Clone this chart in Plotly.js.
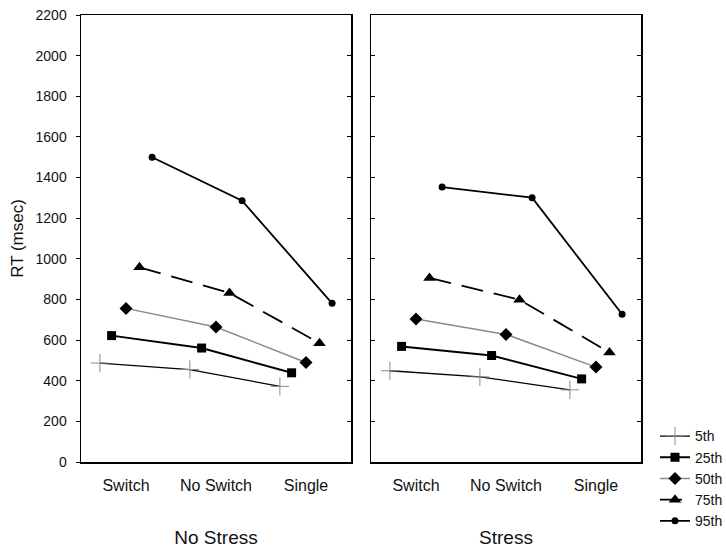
<!DOCTYPE html>
<html>
<head>
<meta charset="utf-8">
<script src="https://cdn.plot.ly/plotly-3.0.1.min.js"></script>
<style>html,body{margin:0;padding:0;background:#fff;}#chart{width:726px;height:551px;}</style>
</head>
<body>
<div id="chart"></div>
<script>
const conditions = ["Switch", "No Switch", "Single"];
const panels = ["No Stress", "Stress"];
const percentiles = ["5th", "25th", "50th", "75th", "95th"];

// RT (msec) per percentile, No Stress panel
const noStress5  = [487, 455, 372];
const noStress25 = [622, 561, 439];
const noStress50 = [756, 664, 490];
const noStress75 = [958, 832, 585];
const noStress95 = [1500, 1286, 781];

// RT (msec) per percentile, Stress panel
const stress5  = [449, 419, 355];
const stress25 = [569, 524, 409];
const stress50 = [704, 628, 467];
const stress75 = [906, 799, 539];
const stress95 = [1353, 1301, 727];

const yTicks = [0,200,400,600,800,1000,1200,1400,1600,1800,2000,2200];

const noStressSeries = [noStress5, noStress25, noStress50, noStress75, noStress95];
const stressSeries = [stress5, stress25, stress50, stress75, stress95];

// styling per percentile
const offsets = [-0.29, -0.16, 0, 0.15, 0.29];
const styles = [
  {line:{color:'#000', width:1.3}, marker:{symbol:'cross-thin-open', size:13, color:'#8a8a8a', line:{color:'#8a8a8a', width:1}}},
  {line:{color:'#000', width:2}, marker:{symbol:'square', size:9, color:'#000'}},
  {line:{color:'#8a8a8a', width:1.5}, marker:{symbol:'diamond', size:10, color:'#000'}},
  {line:{color:'#000', width:1.8, dash:'22px,11px'}, marker:{symbol:'triangle-up', size:11, color:'#000'}},
  {line:{color:'#000', width:1.8}, marker:{symbol:'circle', size:7, color:'#000'}}
];

const traces = [];
[noStressSeries, stressSeries].forEach((set, p) => {
  set.forEach((vals, i) => {
    traces.push({
      type:'scatter', mode:'lines+markers',
      x: conditions.map((c, k) => k + offsets[i]),
      y: vals,
      name: percentiles[i],
      legendgroup: percentiles[i],
      showlegend: p === 0,
      xaxis: p === 0 ? 'x' : 'x2',
      yaxis: p === 0 ? 'y' : 'y2',
      line: styles[i].line,
      marker: styles[i].marker,
      hoverinfo:'x+y'
    });
  });
});

const font = {family:'Arial, "Liberation Sans", sans-serif', color:'#111'};
const xBase = {
  range:[-0.5, 2.5], tickvals:[0,1,2], ticktext:conditions, ticks:'', ticklabelstandoff:8,
  showline:true, linecolor:'#000', linewidth:1.5, mirror:true, showgrid:false, zeroline:false,
  tickfont:{size:16, family:font.family, color:'#111'}
};
const yBase = {
  range:[0, 2200], tickvals:yTicks, showgrid:false, zeroline:false,
  showline:true, linecolor:'#000', linewidth:1.5, ticklen:4, tickcolor:'#000',
  tickfont:{size:14, family:font.family, color:'#111'}
};

const layout = {
  width:726, height:551,
  margin:{l:81, r:85, t:15, b:89, autoexpand:false},
  paper_bgcolor:'#fff', plot_bgcolor:'#fff',
  font: font,
  showlegend:true,
  legend:{x:1.025, y:0.093, xanchor:'left', yanchor:'top', font:{size:14, family:font.family, color:'#111'},
          bgcolor:'rgba(0,0,0,0)', tracegroupgap:0, itemwidth:30},
  xaxis: Object.assign({}, xBase, {domain:[0, 270/560], anchor:'y',
    title:{text:panels[0], font:{size:19, family:font.family, color:'#111'}, standoff:38}}),
  xaxis2: Object.assign({}, xBase, {domain:[290/560, 1], anchor:'y2',
    title:{text:panels[1], font:{size:19, family:font.family, color:'#111'}, standoff:38}}),
  yaxis: Object.assign({}, yBase, {anchor:'x', ticks:'outside', ticklabelstandoff:6,
    title:{text:'RT (msec)', font:{size:17, family:font.family, color:'#111'}, standoff:7}}),
  yaxis3: Object.assign({}, yBase, {anchor:'x', overlaying:'y', side:'right', ticks:'inside', showticklabels:false}),
  yaxis2: Object.assign({}, yBase, {anchor:'x2', ticks:'inside', mirror:'ticks', showticklabels:false})
};

// invisible trace so yaxis3 is drawn
traces.push({type:'scatter', x:[0], y:[0], xaxis:'x', yaxis:'y3', mode:'markers', marker:{opacity:0}, showlegend:false, hoverinfo:'skip'});

Plotly.newPlot('chart', traces, layout, {displayModeBar:false, staticPlot:true});
</script>
</body>
</html>
